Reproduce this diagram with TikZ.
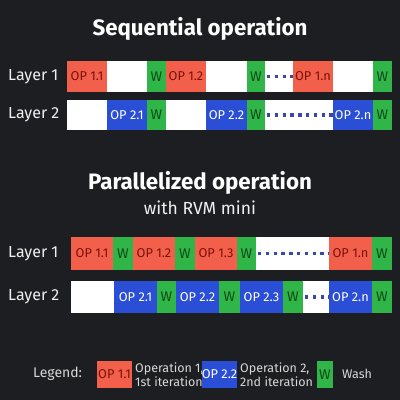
\documentclass[tikz,border=0pt]{standalone}
\usepackage{fontspec}
\setmainfont{Fira Sans}
\definecolor{bg}{HTML}{1D1E21}
\definecolor{opred}{HTML}{F2604B}
\definecolor{opredtxt}{HTML}{7A1208}
\definecolor{opblue}{HTML}{2B4ED6}
\definecolor{wgreen}{HTML}{30B548}
\definecolor{wgreentxt}{HTML}{0E4A18}
\definecolor{dotcol}{HTML}{3A46A8}
\definecolor{lbl}{HTML}{F0F0F0}
\tikzset{
  blkbase/.style={inner sep=0pt, outer sep=0pt, font=\fontsize{12.8}{14}\selectfont},
  opr/.style={blkbase, fill=opred, text=opredtxt},
  opb/.style={blkbase, fill=opblue, text=white},
  wsh/.style={blkbase, fill=wgreen, text=wgreentxt, font=\fontsize{14}{15}\selectfont},
  emp/.style={blkbase, fill=white},
  dotline/.style={draw=dotcol, line width=3.3pt, dash pattern=on 3.3pt off 4.5pt, shorten <=2pt},
  layerlbl/.style={anchor=west, text=lbl, inner sep=0pt, font=\fontsize{16}{18}\selectfont},
  ttl/.style={text=white, inner sep=0pt, font=\fontsize{22.3}{24}\selectfont\bfseries},
  subttl/.style={text=lbl, inner sep=0pt, font=\fontsize{17.5}{19}\selectfont},
  legtxt/.style={text=lbl!90!black, inner sep=0pt, anchor=west, align=left, font=\fontsize{12.5}{13.5}\selectfont},
}
% name, x1, x2, y1, y2, style, text
\newcommand\blk[7]{\node[#6, minimum width={#3pt-#2pt}, minimum height={#5pt-#4pt}] (#1) at ({(#2+#3)/2},{(#4+#5)/2}) {#7};}
\begin{document}
\begin{tikzpicture}[x=1pt,y=-1pt]
\fill[bg] (0,0) rectangle (400,400);
\useasboundingbox (0,0) rectangle (400,400);

% Titles
\node[ttl] (t1) at (200,29) {Sequential operation};
\node[ttl] (t2) at (200,183) {Parallelized operation};
\node[subttl] (t3) at (200,208) {with RVM mini};

% Sequential
\node[layerlbl] (s1l) at (8,76.5) {Layer 1};
\node[layerlbl] (s2l) at (8,115) {Layer 2};
\blk{s11}{67}{107}{61}{92}{opr}{OP 1.1}
\blk{s12}{107}{147}{61}{92}{emp}{}
\blk{s13}{147}{166}{61}{92}{wsh}{W}
\blk{s14}{166}{206}{61}{92}{opr}{OP 1.2}
\blk{s15}{206}{247}{61}{92}{emp}{}
\blk{s16}{247}{265}{61}{92}{wsh}{W}
\blk{s17}{265}{293}{61}{92}{emp}{}
\blk{s18}{293}{333}{61}{92}{opr}{OP 1.n}
\blk{s19}{333}{373}{61}{92}{emp}{}
\blk{s1a}{373}{392}{61}{92}{wsh}{W}
\draw[dotline] (s16.east) -- (s18.west);

\blk{s21}{67}{107}{100}{130}{emp}{}
\blk{s22}{107}{147}{100}{130}{opb}{OP 2.1}
\blk{s23}{147}{166}{100}{130}{wsh}{W}
\blk{s24}{166}{206}{100}{130}{emp}{}
\blk{s25}{206}{247}{100}{130}{opb}{OP 2.2}
\blk{s26}{247}{265}{100}{130}{wsh}{W}
\blk{s27}{265}{333}{100}{130}{emp}{}
\blk{s28}{333}{373}{100}{130}{opb}{OP 2.n}
\blk{s29}{373}{392}{100}{130}{wsh}{W}
\draw[dotline] (s26.east) -- (s28.west);

% Parallel
\node[layerlbl] (p1l) at (8,253.5) {Layer 1};
\node[layerlbl] (p2l) at (8,297) {Layer 2};
\blk{p11}{71}{113}{237}{270}{opr}{OP 1.1}
\blk{p12}{113}{133}{237}{270}{wsh}{W}
\blk{p13}{133}{175}{237}{270}{opr}{OP 1.2}
\blk{p14}{175}{195}{237}{270}{wsh}{W}
\blk{p15}{195}{237}{237}{270}{opr}{OP 1.3}
\blk{p16}{237}{256}{237}{270}{wsh}{W}
\blk{p17}{256}{329}{237}{270}{emp}{}
\blk{p18}{329}{372}{237}{270}{opr}{OP 1.n}
\blk{p19}{372}{392}{237}{270}{wsh}{W}
\draw[dotline] (p16.east) -- (p18.west);

\blk{p21}{71}{114}{281}{313}{emp}{}
\blk{p22}{114}{157}{281}{313}{opb}{OP 2.1}
\blk{p23}{157}{176}{281}{313}{wsh}{W}
\blk{p24}{176}{219}{281}{313}{opb}{OP 2.2}
\blk{p25}{219}{240}{281}{313}{wsh}{W}
\blk{p26}{240}{283}{281}{313}{opb}{OP 2.3}
\blk{p27}{283}{303}{281}{313}{wsh}{W}
\blk{p28}{303}{329}{281}{313}{emp}{}
\blk{p29}{329}{372}{281}{313}{opb}{OP 2.n}
\blk{p2a}{372}{392}{281}{313}{wsh}{W}
\draw[dotline] (p27.east) -- (p29.west);

% Legend
\node[legtxt, font=\fontsize{14}{15}\selectfont] (leg) at (33,374) {Legend:};
\blk{l1}{97}{132}{361}{388}{opr}{OP 1.1}
\node[legtxt] (l1t) at (135,374.5) {Operation 1,\\1st iteration};
\blk{l2}{202}{237}{361}{388}{opb}{OP 2.2}
\node[legtxt] (l2t) at (240,374.5) {Operation 2,\\2nd iteration};
\blk{l3}{317}{333}{361}{388}{wsh}{W}
\node[legtxt] (l3t) at (342,374) {Wash};
\end{tikzpicture}
\end{document}
